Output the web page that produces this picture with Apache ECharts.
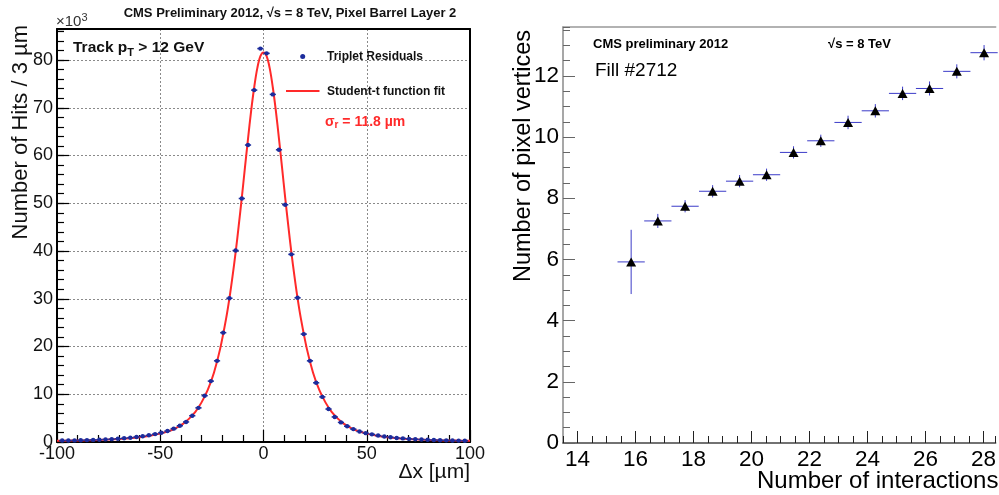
<!DOCTYPE html>
<html><head><meta charset="utf-8">
<script src="https://cdn.jsdelivr.net/npm/echarts@6/dist/echarts.min.js"></script>
<style>html,body{margin:0;padding:0;background:#fff}#c{width:999px;height:495px}</style>
</head><body><div id="c"></div>
<script>
// ---- Left panel: triplet residuals (bin centres, µm) and counts (x10^3) ----
const residX = [-97.5,-94.5,-91.5,-88.5,-85.5,-82.5,-79.5,-76.5,-73.5,-70.5,-67.5,-64.5,-61.5,-58.5,-55.5,-52.5,-49.5,-46.5,-43.5,-40.5,-37.5,-34.5,-31.5,-28.5,-25.5,-22.5,-19.5,-16.5,-13.5,-10.5,-7.5,-4.5,-1.5,
  1.5,4.5,7.5,10.5,13.5,16.5,19.5,22.5,25.5,28.5,31.5,34.5,37.5,40.5,43.5,46.5,49.5,52.5,55.5,58.5,61.5,64.5,67.5,70.5,73.5,76.5,79.5,82.5,85.5,88.5,91.5,94.5,97.5];
const residY = [0.3,0.32,0.34,0.37,0.4,0.44,0.48,0.54,0.6,0.68,0.78,0.9,1.05,1.2,1.4,1.65,1.95,2.3,2.8,3.4,4.2,5.5,7.15,9.7,12.75,17.0,22.9,30.1,40.1,51.0,62.2,73.7,82.4,
  81.4,72.8,61.2,49.7,39.3,30.2,22.6,17.0,12.4,9.45,6.9,5.25,4.1,3.3,2.7,2.2,1.85,1.6,1.35,1.15,1.0,0.85,0.75,0.65,0.58,0.52,0.46,0.42,0.38,0.35,0.32,0.29,0.27];
const binHalfWidth = 1.5;
// Student-t fit curve
const fitX = [-100,-95,-90,-85,-80,-75,-70,-65,-60,-55,-50,-45,-42,-39,-36,-33,-30,-27,-24,-21,-18,-16.5,-15,-13.5,-12,-10.5,-9,-7.5,-6,-4.5,-3,-1.5,0,
  1.5,3,4.5,6,7.5,9,10.5,12,13.5,15,16.5,18,21,24,27,30,33,36,39,42,45,50,55,60,65,70,75,80,85,90,95,100];
const fitY = [0.24,0.27,0.31,0.36,0.43,0.52,0.64,0.8,1.0,1.3,1.75,2.4,3.0,3.8,4.9,6.3,8.3,10.9,14.5,19.5,26.1,30.1,34.7,39.7,45.3,51.2,57.4,63.5,69.3,74.3,78.3,80.8,81.6,
  80.8,78.3,74.3,69.3,63.5,57.4,51.2,45.3,39.7,34.7,30.1,26.1,19.5,14.5,10.9,8.3,6.3,4.9,3.8,3.0,2.4,1.75,1.3,1.0,0.8,0.64,0.52,0.43,0.36,0.31,0.27,0.24];

// ---- Right panel: pixel vertices vs number of interactions ----
const interactions = [15.85,16.77,17.71,18.66,19.59,20.52,21.45,22.39,23.33,24.27,25.21,26.14,27.08,28.02];
const vertices     = [5.92,7.26,7.74,8.23,8.56,8.77,9.50,9.88,10.48,10.86,11.43,11.59,12.15,12.76];
const interErr     = [0.47,0.47,0.47,0.47,0.47,0.47,0.47,0.47,0.47,0.47,0.47,0.47,0.47,0.47];
const vertErr      = [1.05,0.23,0.2,0.2,0.2,0.2,0.2,0.2,0.22,0.22,0.22,0.23,0.23,0.25];
const rightXLabels = [14,16,18,20,22,24,26,28];

const FF = "'Liberation Sans', Arial, Helvetica, sans-serif";
const blue = '#1c2c9c';

const residData = residX.map((x, i) => [x, residY[i]]);
const fitData = fitX.map((x, i) => [x, fitY[i]]);
const vtxData = interactions.map((x, i) => [x, vertices[i], interErr[i], vertErr[i]]);

const chart = echarts.init(document.getElementById('c'), null, {renderer: 'canvas'});

const noAxisBits = {axisTick: {show: false}, axisLabel: {show: false}, splitLine: {show: false}};

chart.setOption({
  animation: false,
  backgroundColor: '#fff',
  textStyle: {fontFamily: FF},
  grid: [
    {left: 57, right: 529, top: 29, bottom: 53},
    {left: 563, right: 0, top: 27, bottom: 52}
  ],
  xAxis: [
    {gridIndex: 0, type: 'value', min: -100, max: 100, interval: 50, position: 'bottom',
     axisLine: {onZero: false, lineStyle: {color: '#000', width: 2}},
     axisTick: {inside: true, length: 12, lineStyle: {color: '#000', width: 1.2}},
     minorTick: {show: true, splitNumber: 5, length: 7, lineStyle: {color: '#000', width: 1.2}},
     splitLine: {show: true, lineStyle: {type: [2, 2], color: '#8a8a8a', width: 1}},
     axisLabel: {fontSize: 18, color: '#111', margin: 3, fontFamily: FF}},
    Object.assign({gridIndex: 0, type: 'value', min: -100, max: 100, position: 'top',
     axisLine: {show: true, onZero: false, lineStyle: {color: '#000', width: 2}}}, noAxisBits),
    {gridIndex: 1, type: 'value', min: 13.5, max: 28.42, interval: 0.5, position: 'bottom',
     axisLine: {onZero: false, lineStyle: {color: '#444', width: 1.5}},
     axisTick: {inside: true, length: 7, lineStyle: {color: '#222', width: 1}},
     axisLabel: {show: false}, splitLine: {show: false}},
    {gridIndex: 1, type: 'value', min: 13.5, max: 28.42, position: 'bottom',
     axisLine: {show: false, onZero: false},
     axisTick: {inside: true, length: 12, customValues: rightXLabels, lineStyle: {color: '#222', width: 1}},
     axisLabel: {customValues: rightXLabels, fontSize: 22.5, color: '#000', margin: 5, fontFamily: FF},
     splitLine: {show: false}},
    Object.assign({gridIndex: 1, type: 'value', min: 13.5, max: 28.42, position: 'top',
     axisLine: {show: true, onZero: false, lineStyle: {color: '#999', width: 1.5}}}, noAxisBits)
  ],
  yAxis: [
    {gridIndex: 0, type: 'value', min: 0, max: 86.5, interval: 10, position: 'left',
     axisLine: {show: true, onZero: false, lineStyle: {color: '#000', width: 2}},
     axisTick: {show: true, inside: true, length: 12, lineStyle: {color: '#000', width: 1.2}},
     axisLabel: {fontSize: 18, color: '#111', margin: 4, showMaxLabel: false, fontFamily: FF},
     splitLine: {show: true, lineStyle: {type: [2, 2], color: '#8a8a8a', width: 1}}},
    {gridIndex: 0, type: 'value', min: 0, max: 86.5, interval: 2, position: 'left',
     axisLine: {show: false, onZero: false},
     axisTick: {show: true, inside: true, length: 7, lineStyle: {color: '#000', width: 1.2}},
     axisLabel: {show: false}, splitLine: {show: false}},
    Object.assign({gridIndex: 0, type: 'value', min: 0, max: 86.5, position: 'right',
     axisLine: {show: true, onZero: false, lineStyle: {color: '#000', width: 2}}}, noAxisBits),
    {gridIndex: 1, type: 'value', min: 0, max: 13.6, interval: 2, position: 'left',
     axisLine: {show: true, onZero: false, lineStyle: {color: '#8a8a8a', width: 1.5}},
     axisTick: {show: true, inside: true, length: 12, lineStyle: {color: '#666', width: 1}},
     axisLabel: {fontSize: 22.5, color: '#000', margin: 4, showMaxLabel: false, fontFamily: FF},
     splitLine: {show: false}},
    {gridIndex: 1, type: 'value', min: 0, max: 13.6, interval: 0.5, position: 'left',
     axisLine: {show: false, onZero: false},
     axisTick: {show: true, inside: true, length: 7, lineStyle: {color: '#666', width: 1}},
     axisLabel: {show: false}, splitLine: {show: false}}
  ],
  series: [
    {type: 'line', name: 'Student-t function fit', xAxisIndex: 0, yAxisIndex: 0, data: fitData,
     smooth: 0.35, showSymbol: false, symbol: 'none', lineStyle: {color: '#ff2a2a', width: 2}, z: 3},
    {type: 'custom', name: 'Triplet Residuals', xAxisIndex: 0, yAxisIndex: 0, data: residData, z: 4,
     encode: {x: 0, y: 1},
     renderItem: function (params, api) {
       const x = api.value(0), y = api.value(1);
       const p = api.coord([x, y]);
       const l = api.coord([x - binHalfWidth, y]);
       const r = api.coord([x + binHalfWidth, y]);
       return {type: 'group', children: [
         {type: 'line', shape: {x1: l[0], y1: l[1], x2: r[0], y2: r[1]}, style: {stroke: blue, lineWidth: 1.5}},
         {type: 'circle', shape: {cx: p[0], cy: p[1], r: 2.2}, style: {fill: blue}}
       ]};
     }},
    {type: 'custom', name: 'errors', xAxisIndex: 2, yAxisIndex: 3, data: vtxData, z: 3, clip: false,
     encode: {x: 0, y: 1},
     renderItem: function (params, api) {
       const x = api.value(0), y = api.value(1), xe = api.value(2), ye = api.value(3);
       const a = api.coord([x - xe, y]), b = api.coord([x + xe, y]);
       const c = api.coord([x, y - ye]), d = api.coord([x, y + ye]);
       return {type: 'group', children: [
         {type: 'line', shape: {x1: a[0], y1: a[1], x2: b[0], y2: b[1]}, style: {stroke: '#3b3bc8', lineWidth: 1}},
         {type: 'line', shape: {x1: c[0], y1: c[1], x2: d[0], y2: d[1]}, style: {stroke: '#3b3bc8', lineWidth: 1}}
       ]};
     }},
    {type: 'scatter', name: 'vertices', xAxisIndex: 2, yAxisIndex: 3, data: vtxData.map(d => [d[0], d[1]]),
     symbol: 'triangle', symbolSize: [10, 9], itemStyle: {color: '#000', opacity: 1}, z: 5}
  ],
  graphic: [
    {type: 'text', x: 290, y: 13, style: {text: 'CMS Preliminary 2012, √s = 8 TeV, Pixel Barrel Layer 2',
      font: 'bold 13px ' + FF, fill: '#111', align: 'center', verticalAlign: 'middle'}},
    {type: 'text', x: 56, y: 22, style: {text: '{a|×10}{b|3}', align: 'left', verticalAlign: 'middle',
      rich: {a: {fontSize: 15, fontFamily: FF, fill: '#333'}, b: {fontSize: 11, fontFamily: FF, fill: '#333', padding: [0, 0, 9, 0]}}}},
    {type: 'text', x: 73, y: 48, style: {text: '{a|Track p}{b|T}{a| > 12 GeV}', align: 'left', verticalAlign: 'middle',
      rich: {a: {fontSize: 15.5, fontWeight: 'bold', fontFamily: FF, fill: '#111'}, b: {fontSize: 11, fontWeight: 'bold', fontFamily: FF, fill: '#111', padding: [9, 0, 0, 0]}}}},
    {type: 'circle', shape: {cx: 302.7, cy: 56.5, r: 2.5}, style: {fill: blue}},
    {type: 'text', x: 327, y: 57, style: {text: 'Triplet Residuals', font: 'bold 12px ' + FF, fill: '#111', align: 'left', verticalAlign: 'middle'}},
    {type: 'line', shape: {x1: 286, y1: 91, x2: 319.5, y2: 91}, style: {stroke: '#ff2a2a', lineWidth: 2}},
    {type: 'text', x: 327, y: 92, style: {text: 'Student-t function fit', font: 'bold 12px ' + FF, fill: '#111', align: 'left', verticalAlign: 'middle'}},
    {type: 'text', x: 325, y: 122, style: {text: '{a|σ}{b|r}{a| = 11.8 µm}', align: 'left', verticalAlign: 'middle',
      rich: {a: {fontSize: 14, fontWeight: 'bold', fontFamily: FF, fill: '#ff2a2a'}, b: {fontSize: 10, fontWeight: 'bold', fontFamily: FF, fill: '#ff2a2a', padding: [7, 0, 0, 0]}}}},
    {type: 'text', x: 20.5, y: 25, rotation: Math.PI / 2, style: {text: 'Number of Hits / 3 µm', font: '22px ' + FF, fill: '#111', align: 'right', verticalAlign: 'middle'}},
    {type: 'text', x: 470, y: 472, style: {text: 'Δx [µm]', font: '21px ' + FF, fill: '#111', align: 'right', verticalAlign: 'middle'}},
    {type: 'text', x: 593, y: 44, style: {text: 'CMS preliminary 2012', font: 'bold 13px ' + FF, fill: '#000', align: 'left', verticalAlign: 'middle'}},
    {type: 'text', x: 828, y: 44, style: {text: '√s = 8 TeV', font: 'bold 13px ' + FF, fill: '#000', align: 'left', verticalAlign: 'middle'}},
    {type: 'text', x: 595, y: 71, style: {text: 'Fill #2712', font: '19px ' + FF, fill: '#000', align: 'left', verticalAlign: 'middle'}},
    {type: 'text', x: 524, y: 30, rotation: Math.PI / 2, style: {text: 'Number of pixel vertices', font: '23.5px ' + FF, fill: '#000', align: 'right', verticalAlign: 'middle'}},
    {type: 'text', x: 757, y: 481, style: {text: 'Number of interactions', font: '24px ' + FF, fill: '#000', align: 'left', verticalAlign: 'middle'}}
  ]
});
</script>
</body></html>
